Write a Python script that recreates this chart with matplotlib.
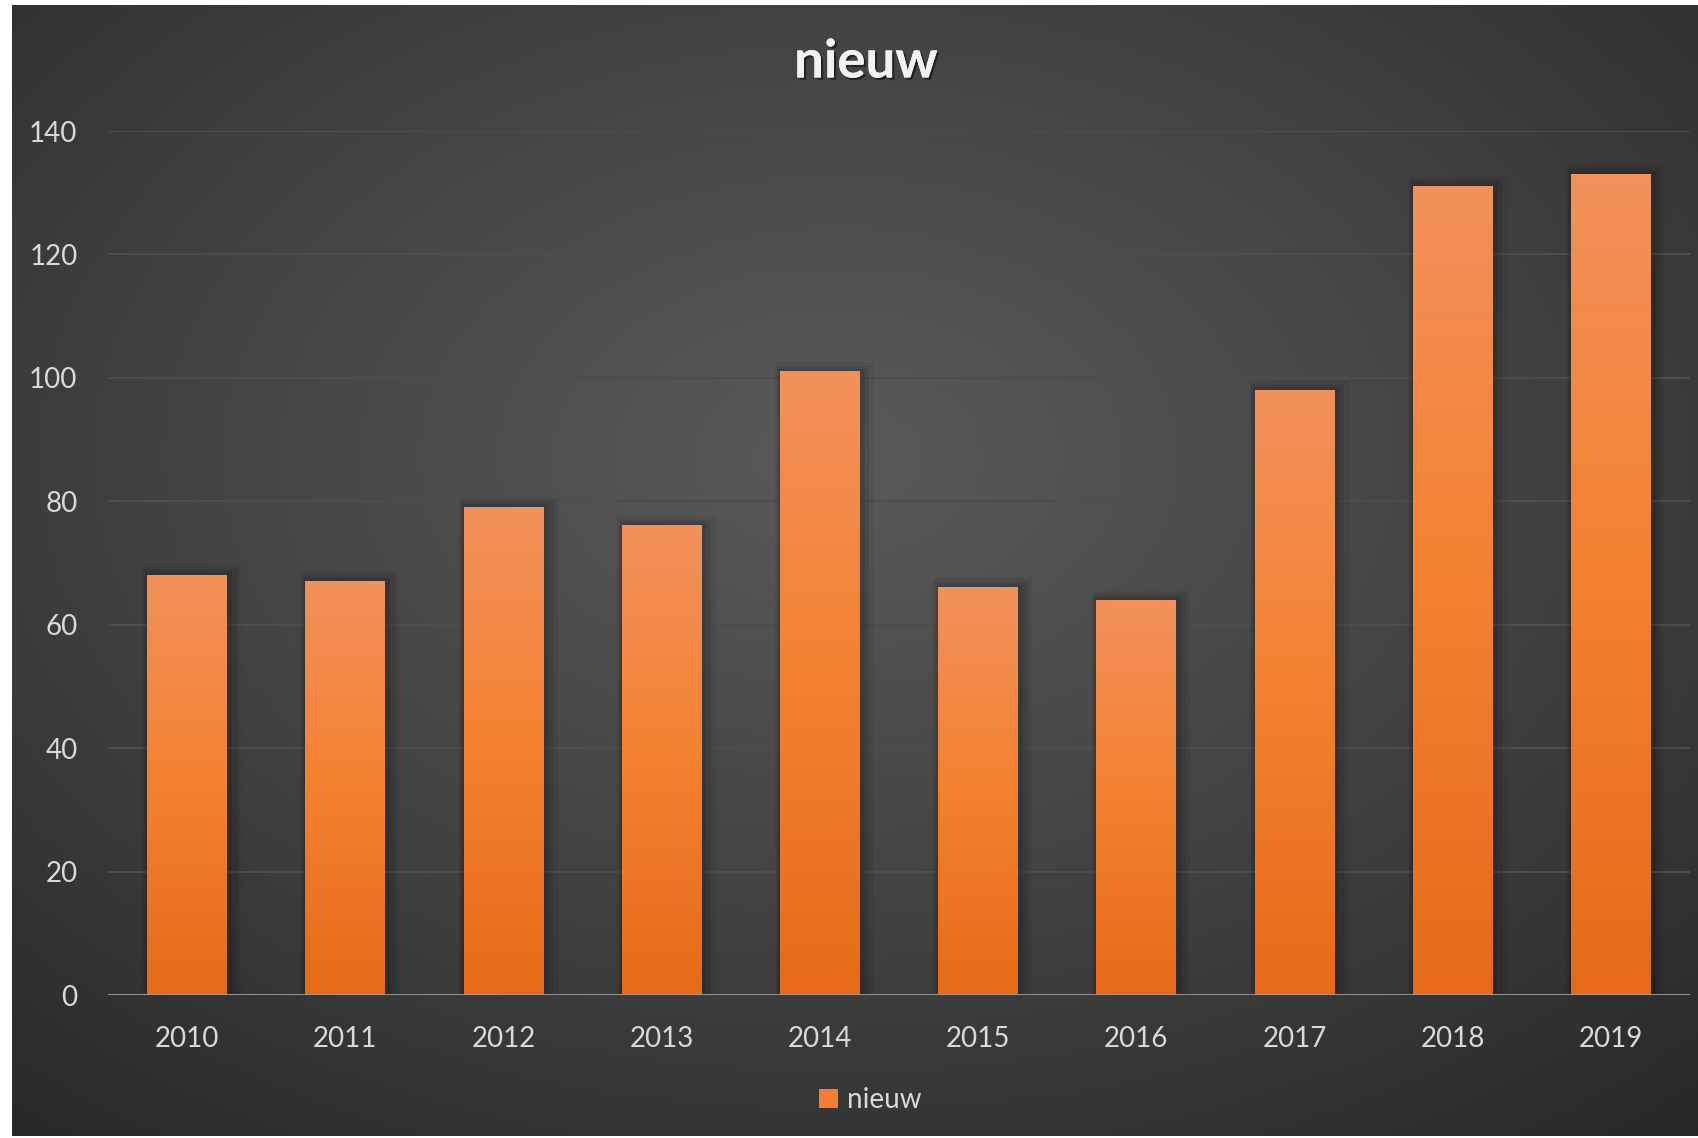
import numpy as np
import matplotlib.pyplot as plt
import matplotlib.patheffects as pe
from matplotlib.colors import LinearSegmentedColormap
from matplotlib.patches import Patch, Rectangle

plt.rcParams['font.family'] = ['Lato', 'DejaVu Sans']

years = ['2010', '2011', '2012', '2013', '2014', '2015', '2016', '2017', '2018', '2019']
nieuw = [68, 67, 79, 76, 101, 66, 64, 98, 131, 133]
yticks = [0, 20, 40, 60, 80, 100, 120, 140]

W, H = 1698, 1138
fig = plt.figure(figsize=(W / 100, H / 100), dpi=100, facecolor='white')

# background panel with radial gradient
bg = fig.add_axes([12 / W, 2 / H, 1 - 12 / W, 1 - 7 / H])
bg.set_axis_off()
gx, gy = np.meshgrid(np.linspace(0, 1, 400), np.linspace(0, 1, 300))
r = np.sqrt(((gx - 0.49) / 0.8) ** 2 + ((gy - 0.40) / 0.8) ** 2)
r = np.clip(r, 0, 1)
bgmap = LinearSegmentedColormap.from_list('bg', ['#5a5a5a', '#424242', '#272727'])
bg.imshow(r, cmap=bgmap, extent=[0, 1, 1, 0], aspect='auto', vmin=0, vmax=1)
bg.set_xlim(0, 1)
bg.set_ylim(1, 0)

ax = fig.add_axes([108 / W, 143 / H, (1690 - 108) / W, (995 - 131) / H])
ax.patch.set_alpha(0)
x = np.arange(len(years))
bars = ax.bar(x, nieuw, width=0.505, color='none', zorder=3)

barmap = LinearSegmentedColormap.from_list('bar', ['#f1915b', '#f4812f', '#e66a18'])
grad = np.linspace(0, 1, 256).reshape(-1, 1)
for b in bars:
    bx, bw, bh = b.get_x(), b.get_width(), b.get_height()
    # soft shadow
    for i, a in enumerate([0.10, 0.08, 0.06]):
        ax.add_patch(Rectangle((bx - 0.01 * (i + 1), 0), bw + 0.04 * (i + 1), bh + 0.5 * (i + 1),
                               facecolor='black', edgecolor='none', alpha=a, zorder=2))
    ax.imshow(grad, cmap=barmap, extent=[bx, bx + bw, 0, bh], aspect='auto', zorder=3)

ax.set_xlim(-0.5, len(years) - 0.5)
ax.set_ylim(0, 140)
ax.set_yticks(yticks)
ax.set_xticks(x)
ax.set_xticklabels(years)
ax.yaxis.grid(True, color='#4d4d4d', linewidth=1.5, zorder=1)
ax.set_axisbelow(True)
ax.axhline(0, color='#9c9c9c', linewidth=2, zorder=4)
for s in ax.spines.values():
    s.set_visible(False)
ax.tick_params(axis='both', length=0, labelsize=20, labelcolor='#d9d9d9')
ax.tick_params(axis='y', pad=22)
ax.tick_params(axis='x', pad=22)

fig.text(866 / W, 1 - 62 / H, 'nieuw', ha='center', va='center', fontsize=38,
         fontweight='bold', color='#f2f2f2',
         path_effects=[pe.withSimplePatchShadow(offset=(1.5, -1.5), shadow_rgbFace='black', alpha=0.5),
                       pe.Normal()])

leg = fig.legend(handles=[Patch(facecolor='#f17f31', edgecolor='none', label='nieuw')],
                 loc='center', bbox_to_anchor=(870 / W, 1 - 1100 / H), frameon=False,
                 fontsize=20, handlelength=0.7, handleheight=0.7, handletextpad=0.3)
for t in leg.get_texts():
    t.set_color('#d9d9d9')

fig.savefig('out.png', dpi=100, facecolor='white')
